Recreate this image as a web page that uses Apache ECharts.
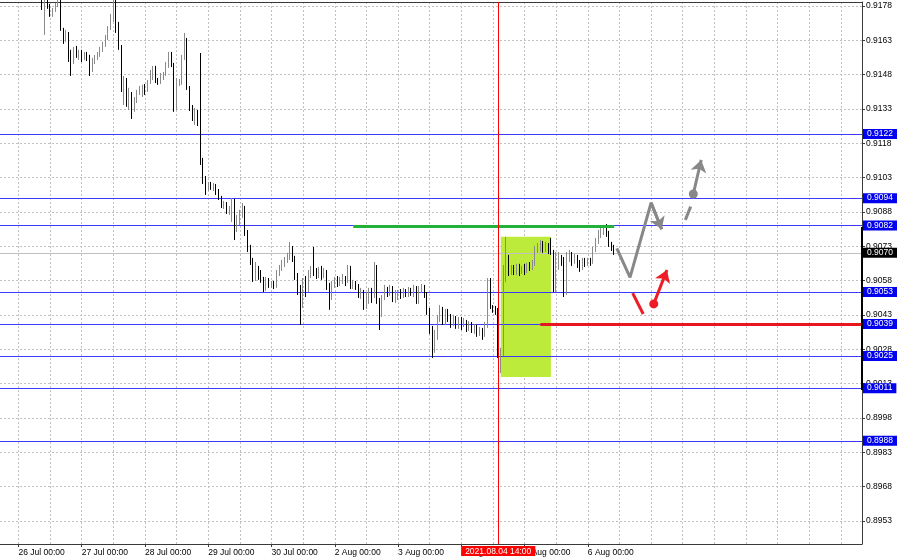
<!DOCTYPE html>
<html><head><meta charset="utf-8">
<script src="https://cdn.jsdelivr.net/npm/echarts@6/dist/echarts.min.js"></script>
<style>html,body{margin:0;padding:0;background:#fff}#c{width:900px;height:560px}</style>
</head><body><div id="c"></div>
<script>
// trading sessions (day label, first hour shown)
const tradingDays = [['23 Jul',17],['26 Jul',0],['27 Jul',0],['28 Jul',0],['29 Jul',0],['30 Jul',0],['2 Aug',0],['3 Aug',0],['4 Aug',0],['5 Aug',0],['6 Aug',0],['9 Aug',0],['10 Aug',0],['11 Aug',0],['12 Aug',0]];
const totalSlots = 328;
// hourly candles [open, close, low, high]
const ohlc = [
[0.91860,0.91867,0.91848,0.91878],[0.91867,0.91885,0.91860,0.91895],[0.91885,0.91858,0.91850,0.91892],[0.91858,0.91876,0.91852,0.91884],
[0.91876,0.91893,0.91870,0.91905],[0.91893,0.91872,0.91866,0.91898],[0.91872,0.91850,0.91842,0.91878],[0.91850,0.91841,0.91832,0.91858],
[0.91841,0.91858,0.91836,0.91866],[0.91858,0.91832,0.91825,0.91862],[0.91832,0.91845,0.91826,0.91852],[0.91845,0.91823,0.91815,0.91850],
[0.91823,0.91841,0.91818,0.91848],[0.91841,0.91819,0.91812,0.91846],[0.91819,0.91832,0.91810,0.91840],[0.91832,0.91815,0.91805,0.91838],
[0.91815,0.91789,0.91762,0.91823],[0.91789,0.91815,0.91653,0.91832],[0.91815,0.91780,0.91767,0.91828],[0.91780,0.91740,0.91732,0.91789],
[0.91740,0.91762,0.91732,0.91771],[0.91762,0.91784,0.91754,0.91793],[0.91784,0.91797,0.91775,0.91819],[0.91797,0.91675,0.91671,0.91806],
[0.91675,0.91640,0.91614,0.91684],[0.91640,0.91662,0.91623,0.91675],[0.91662,0.91553,0.91535,0.91666],[0.91553,0.91535,0.91474,0.91588],
[0.91535,0.91588,0.91526,0.91601],[0.91588,0.91566,0.91553,0.91605],[0.91566,0.91579,0.91544,0.91588],[0.91579,0.91553,0.91535,0.91588],
[0.91553,0.91570,0.91544,0.91579],[0.91570,0.91553,0.91539,0.91579],[0.91553,0.91500,0.91474,0.91566],[0.91500,0.91535,0.91491,0.91553],
[0.91535,0.91553,0.91526,0.91566],[0.91553,0.91566,0.91544,0.91579],[0.91566,0.91588,0.91557,0.91601],[0.91588,0.91609,0.91579,0.91623],
[0.91609,0.91640,0.91601,0.91653],[0.91640,0.91684,0.91631,0.91692],[0.91684,0.91719,0.91675,0.91745],[0.91719,0.91784,0.91710,0.91828],
[0.91784,0.91675,0.91662,0.91832],[0.91675,0.91601,0.91588,0.91710],[0.91601,0.91422,0.91404,0.91609],[0.91422,0.91456,0.91347,0.91474],
[0.91456,0.91369,0.91339,0.91465],[0.91369,0.91391,0.91325,0.91422],[0.91391,0.91334,0.91286,0.91404],[0.91334,0.91369,0.91317,0.91382],
[0.91369,0.91404,0.91356,0.91413],[0.91404,0.91413,0.91391,0.91430],[0.91413,0.91422,0.91382,0.91435],[0.91422,0.91413,0.91391,0.91439],
[0.91413,0.91448,0.91404,0.91456],[0.91448,0.91478,0.91439,0.91500],[0.91478,0.91509,0.91456,0.91518],[0.91509,0.91456,0.91443,0.91518],
[0.91456,0.91448,0.91435,0.91465],[0.91448,0.91474,0.91439,0.91487],[0.91474,0.91483,0.91456,0.91491],[0.91483,0.91518,0.91474,0.91535],
[0.91518,0.91570,0.91509,0.91579],[0.91570,0.91522,0.91513,0.91579],[0.91522,0.91334,0.91317,0.91531],[0.91334,0.91439,0.91325,0.91465],
[0.91439,0.91448,0.91430,0.91461],[0.91448,0.91553,0.91435,0.91566],[0.91553,0.91623,0.91544,0.91662],[0.91623,0.91422,0.91413,0.91640],
[0.91422,0.91334,0.91321,0.91430],[0.91334,0.91290,0.91277,0.91347],[0.91290,0.91317,0.91260,0.91334],[0.91317,0.91282,0.91255,0.91325],
[0.91282,0.91098,0.91085,0.91574],[0.91098,0.91020,0.91002,0.91116],[0.91020,0.90985,0.90954,0.91037],[0.90985,0.91002,0.90971,0.91011],
[0.91002,0.90989,0.90976,0.91011],[0.90989,0.90993,0.90971,0.91006],[0.90993,0.90967,0.90954,0.91002],[0.90967,0.90941,0.90932,0.90980],
[0.90941,0.90906,0.90897,0.90950],[0.90906,0.90915,0.90893,0.90928],[0.90915,0.90884,0.90871,0.90923],[0.90884,0.90897,0.90867,0.90906],
[0.90897,0.90932,0.90836,0.90941],[0.90932,0.90810,0.90757,0.90937],[0.90810,0.90845,0.90792,0.90867],[0.90845,0.90871,0.90823,0.90889],
[0.90871,0.90897,0.90854,0.90919],[0.90897,0.90792,0.90775,0.90906],[0.90792,0.90722,0.90705,0.90801],[0.90722,0.90661,0.90648,0.90736],
[0.90661,0.90591,0.90574,0.90679],[0.90591,0.90635,0.90578,0.90661],[0.90635,0.90609,0.90583,0.90644],[0.90609,0.90587,0.90570,0.90626],
[0.90587,0.90539,0.90530,0.90596],[0.90539,0.90583,0.90535,0.90596],[0.90583,0.90561,0.90548,0.90591],[0.90561,0.90570,0.90548,0.90578],
[0.90570,0.90556,0.90543,0.90578],[0.90556,0.90609,0.90548,0.90626],[0.90609,0.90635,0.90600,0.90648],[0.90635,0.90653,0.90622,0.90670],
[0.90653,0.90670,0.90639,0.90683],[0.90670,0.90688,0.90657,0.90701],[0.90688,0.90722,0.90670,0.90749],[0.90722,0.90679,0.90661,0.90731],
[0.90679,0.90600,0.90583,0.90688],[0.90600,0.90539,0.90517,0.90613],[0.90539,0.90473,0.90386,0.90561],[0.90473,0.90574,0.90460,0.90591],
[0.90574,0.90539,0.90508,0.90600],[0.90539,0.90609,0.90530,0.90626],[0.90609,0.90626,0.90591,0.90644],[0.90626,0.90618,0.90600,0.90727],
[0.90618,0.90604,0.90587,0.90635],[0.90604,0.90626,0.90591,0.90639],[0.90626,0.90600,0.90583,0.90644],[0.90600,0.90618,0.90591,0.90635],
[0.90618,0.90552,0.90539,0.90626],[0.90552,0.90504,0.90452,0.90570],[0.90504,0.90565,0.90495,0.90578],[0.90565,0.90583,0.90548,0.90596],
[0.90583,0.90565,0.90552,0.90600],[0.90565,0.90583,0.90556,0.90596],[0.90583,0.90591,0.90565,0.90609],[0.90591,0.90578,0.90556,0.90600],
[0.90578,0.90635,0.90570,0.90648],[0.90635,0.90556,0.90543,0.90644],[0.90556,0.90570,0.90543,0.90583],[0.90570,0.90552,0.90539,0.90578],
[0.90552,0.90517,0.90504,0.90565],[0.90517,0.90530,0.90500,0.90548],[0.90530,0.90473,0.90452,0.90539],[0.90473,0.90495,0.90456,0.90530],
[0.90495,0.90526,0.90478,0.90548],[0.90526,0.90513,0.90482,0.90548],[0.90513,0.90635,0.90504,0.90661],[0.90635,0.90495,0.90478,0.90648],
[0.90495,0.90443,0.90364,0.90504],[0.90443,0.90504,0.90421,0.90517],[0.90504,0.90539,0.90495,0.90561],[0.90539,0.90526,0.90508,0.90552],
[0.90526,0.90548,0.90513,0.90561],[0.90548,0.90504,0.90486,0.90556],[0.90504,0.90513,0.90482,0.90539],[0.90513,0.90526,0.90495,0.90539],
[0.90526,0.90513,0.90500,0.90543],[0.90513,0.90535,0.90504,0.90548],[0.90535,0.90517,0.90508,0.90543],[0.90517,0.90539,0.90508,0.90552],
[0.90539,0.90521,0.90513,0.90548],[0.90521,0.90548,0.90508,0.90561],[0.90548,0.90486,0.90478,0.90556],[0.90486,0.90539,0.90478,0.90556],
[0.90539,0.90552,0.90526,0.90565],[0.90552,0.90513,0.90504,0.90561],[0.90513,0.90443,0.90430,0.90530],[0.90443,0.90364,0.90347,0.90460],
[0.90364,0.90277,0.90242,0.90382],[0.90277,0.90342,0.90264,0.90364],[0.90342,0.90417,0.90321,0.90430],[0.90417,0.90452,0.90399,0.90473],
[0.90452,0.90399,0.90386,0.90465],[0.90399,0.90443,0.90386,0.90456],[0.90443,0.90417,0.90399,0.90456],[0.90417,0.90399,0.90373,0.90434],
[0.90399,0.90417,0.90382,0.90430],[0.90417,0.90386,0.90369,0.90425],[0.90386,0.90408,0.90369,0.90421],[0.90408,0.90390,0.90364,0.90421],
[0.90390,0.90399,0.90377,0.90417],[0.90399,0.90373,0.90355,0.90408],[0.90373,0.90390,0.90360,0.90403],[0.90390,0.90364,0.90351,0.90399],
[0.90364,0.90377,0.90347,0.90390],[0.90377,0.90351,0.90334,0.90386],[0.90351,0.90364,0.90338,0.90377],[0.90364,0.90342,0.90321,0.90373],
[0.90342,0.90386,0.90334,0.90399],[0.90386,0.90561,0.90373,0.90591],[0.90561,0.90465,0.90456,0.90591],[0.90465,0.90452,0.90439,0.90473],
[0.90452,0.90443,0.90430,0.90469],[0.90443,0.90255,0.90242,0.90460],[0.90255,0.90268,0.90176,0.90286],[0.90268,0.90635,0.90251,0.90648],
[0.90635,0.90679,0.90574,0.90771],[0.90679,0.90618,0.90600,0.90692],[0.90618,0.90635,0.90604,0.90648],[0.90635,0.90618,0.90604,0.90648],
[0.90618,0.90635,0.90604,0.90653],[0.90635,0.90622,0.90600,0.90653],[0.90622,0.90635,0.90609,0.90644],[0.90635,0.90626,0.90604,0.90653],
[0.90626,0.90644,0.90613,0.90657],[0.90644,0.90635,0.90622,0.90661],[0.90635,0.90653,0.90626,0.90670],[0.90653,0.90714,0.90644,0.90731],
[0.90714,0.90722,0.90701,0.90744],[0.90722,0.90740,0.90705,0.90757],[0.90740,0.90714,0.90701,0.90753],[0.90714,0.90731,0.90705,0.90749],
[0.90731,0.90714,0.90696,0.90744],[0.90714,0.90705,0.90692,0.90766],[0.90705,0.90539,0.90530,0.90714],[0.90539,0.90648,0.90530,0.90705],
[0.90648,0.90679,0.90626,0.90705],[0.90679,0.90661,0.90644,0.90692],[0.90661,0.90526,0.90508,0.90683],[0.90526,0.90679,0.90517,0.90705],
[0.90679,0.90692,0.90661,0.90714],[0.90692,0.90661,0.90644,0.90705],[0.90661,0.90679,0.90653,0.90696],[0.90679,0.90653,0.90635,0.90692],
[0.90653,0.90635,0.90618,0.90670],[0.90635,0.90661,0.90626,0.90679],[0.90661,0.90653,0.90639,0.90679],[0.90653,0.90666,0.90644,0.90679],
[0.90666,0.90657,0.90644,0.90679],[0.90657,0.90714,0.90653,0.90727],[0.90714,0.90749,0.90705,0.90766],[0.90749,0.90775,0.90740,0.90801],
[0.90775,0.90792,0.90766,0.90810],[0.90792,0.90805,0.90779,0.90823],[0.90805,0.90784,0.90771,0.90827],[0.90784,0.90736,0.90727,0.90797],
[0.90736,0.90722,0.90709,0.90749],[0.90722,0.90701,0.90692,0.90736]
];
// price scale
const yMin = 0.89429, yMax = 0.91797;
const yTicks = [0.8953,0.8968,0.8983,0.8998,0.9013,0.9028,0.9043,0.9058,0.9073,0.9088,0.9103,0.9118,0.9133,0.9148,0.9163,0.9178];
// horizontal levels
const levels = [0.9122,0.9094,0.9082,0.9053,0.9039,0.9025,0.9011,0.8988];
const timeLabel = '2021.08.04 14:00';
const timeCategory = '4 Aug 14:00';
// drawn objects [category index, price]
const greenLine = [[134,0.90818],[233,0.90818]];
const redLine = [[205,0.9039],[327,0.9039]];
const rectArea = [[190,0.90771],[209,0.90159]];
const grayZigzag = [[234,0.90721],[239,0.90594],[247,0.90920],[251,0.90804]];
const grayDash = [[260,0.90845],[262,0.90903]];
const grayDot = [263,0.90958];
const grayArrow = [[263,0.90958],[266,0.91107]];
const redDash = [[240,0.90525],[244,0.90434]];
const redDot = [248,0.90478];
const redArrow = [[248,0.90478],[253,0.90626]];
const scaleMark = [[327,0.90814],[327,0.90102]];

const categories = [];
for (const [d, h0] of tradingDays) {
  for (let h = h0; h < 24 && categories.length < totalSlots; h++) {
    categories.push(d + ' ' + String(h).padStart(2,'0') + ':00');
  }
}
const lastBar = ohlc.length - 1;
const lastPrice = ohlc[lastBar][1];
const dayStart = (i, v) => i <= lastBar && /00:00$/.test(v);
const halfDayIdx = [];
categories.forEach((v, i) => { if (/(00|12):00$/.test(v)) halfDayIdx.push(i); });
const gridColor = '#c0c0c0';
const FONT = 'Liberation Sans';
const FS = 8.5;
const GRAY = '#888888', RED = '#ee1c25';
const plain = (pts, color) => [{coord: pts[0], symbol: 'none', lineStyle: {color: color, width: 3, type: 'solid'}}, {coord: pts[1], symbol: 'none'}];
const arrow = (pts, color) => [{coord: pts[0], symbol: 'none', lineStyle: {color: color, width: 3, type: 'solid'}}, {coord: pts[1], symbol: 'arrow', symbolSize: 12}];

const chart = echarts.init(document.getElementById('c'), null, {renderer: 'canvas'});
chart.setOption({
  animation: false,
  backgroundColor: '#ffffff',
  textStyle: {fontFamily: FONT},
  grid: {left: 0, right: 38, top: 2, bottom: 16},
  xAxis: [{
    type: 'category', data: categories, boundaryGap: false,
    axisLine: {lineStyle: {color: '#3a3a3a', width: 1}},
    axisTick: {show: true, length: 3, interval: dayStart, lineStyle: {color: '#3a3a3a'}},
    axisLabel: {interval: dayStart, align: 'left', margin: 4, fontSize: FS, color: '#000', fontFamily: FONT},
    splitLine: {show: false}
  }, {
    type: 'category', data: categories, boundaryGap: false, position: 'top',
    axisLine: {lineStyle: {color: '#3a3a3a', width: 1}},
    axisTick: {show: false}, axisLabel: {show: false}, splitLine: {show: false}
  }],
  yAxis: {
    type: 'value', position: 'right', min: yMin, max: yMax,
    axisLine: {show: true, lineStyle: {color: '#3a3a3a', width: 1}},
    axisTick: {show: true, length: 3, customValues: yTicks, lineStyle: {color: '#3a3a3a'}},
    axisLabel: {customValues: yTicks, formatter: v => Number(v).toFixed(4), margin: 4, fontSize: FS, color: '#000', fontFamily: FONT},
    splitLine: {show: false}
  },
  series: [
    {
      type: 'line', name: 'grid', data: [],
      markLine: {z: 0, silent: true, precision: 6, symbol: ['none', 'none'], label: {show: false},
        lineStyle: {color: gridColor, type: [2, 2], width: 1},
        data: yTicks.map(v => ({yAxis: v})).concat(halfDayIdx.map(i => ({xAxis: i})))}
    },
    {
      type: 'line', name: 'levels', data: [],
      markLine: {z: 1, silent: true, precision: 6, symbol: ['none', 'none'],
        lineStyle: {color: '#3b3bff', type: 'solid', width: 1},
        label: {show: true, position: 'end', distance: 1, backgroundColor: '#0000ee', color: '#fff',
          fontSize: FS, lineHeight: 9, padding: [1, 4, 0, 4], fontFamily: FONT,
          formatter: p => Number(p.value).toFixed(4)},
        data: levels.map(v => ({yAxis: v})).concat([{yAxis: lastPrice, lineStyle: {color: '#c0c0c0', type: 'solid', width: 1}, label: {backgroundColor: '#000'}}])}
    },
    {
      type: 'candlestick', name: 'price', data: ohlc, z: 2, clip: true, barWidth: 1.3,
      itemStyle: {color: '#8a8a8a', color0: '#000000', borderColor: '#8a8a8a', borderColor0: '#000000', borderWidth: 1},
      markArea: {z: 0.5, silent: true, itemStyle: {color: '#bdeb3c', opacity: 1},
        data: [[{coord: rectArea[0]}, {coord: rectArea[1]}]]}
    },
    {
      type: 'line', name: 'zigzag', data: grayZigzag, z: 5, symbol: 'none',
      lineStyle: {color: GRAY, width: 3}
    },
    {
      type: 'line', name: 'objects', data: [], z: 5,
      markLine: {z: 5, silent: true, precision: 6, symbol: ['none', 'none'], label: {show: false},
        data: [
          [{coord: greenLine[0], lineStyle: {color: '#22b23a', width: 3, type: 'solid'}}, {coord: greenLine[1]}],
          [{coord: redLine[0], lineStyle: {color: '#e8161e', width: 3, type: 'solid'}}, {coord: redLine[1]}],
          arrow(grayZigzag.slice(2, 4), GRAY),
          plain(grayDash, GRAY),
          arrow(grayArrow, GRAY),
          plain(redDash, RED),
          arrow(redArrow, RED),
          [{coord: scaleMark[0], lineStyle: {color: '#000', width: 2, type: 'solid'}}, {coord: scaleMark[1]}],
          {xAxis: categories.indexOf(timeCategory), lineStyle: {color: '#ff0000', width: 1, type: 'solid'},
            label: {show: true, position: 'start', distance: 2, formatter: timeLabel, backgroundColor: '#ff0000',
              color: '#fff', fontSize: FS, lineHeight: 9, padding: [1, 4, 0, 4], fontFamily: FONT}}
        ]},
      markPoint: {z: 6, silent: true, symbol: 'circle', symbolSize: 9, label: {show: false},
        data: [
          {coord: grayDot, itemStyle: {color: GRAY}},
          {coord: redDot, itemStyle: {color: RED}}
        ]}
    }
  ]
});
</script>
</body></html>
